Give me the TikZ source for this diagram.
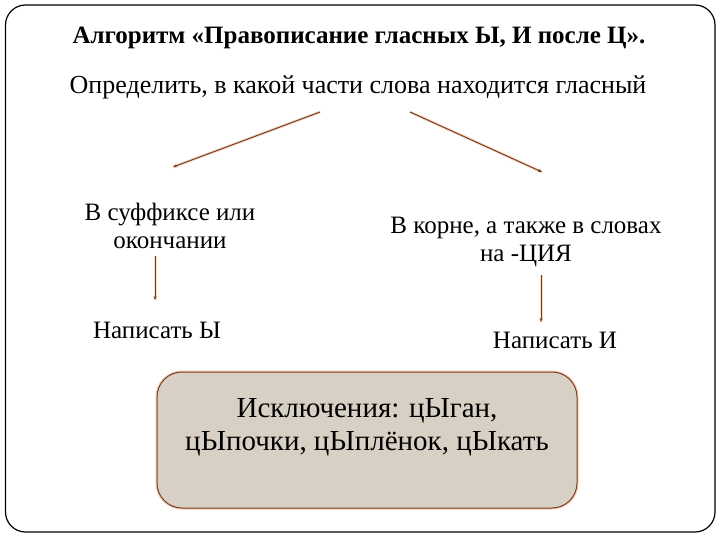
\documentclass[tikz,border=0pt]{standalone}
\usepackage{fontspec}
\setmainfont{Liberation Serif}
\usetikzlibrary{arrows.meta}
\definecolor{arrowbrown}{HTML}{7A3A20}
\definecolor{glow}{HTML}{F2C9A8}
\definecolor{boxfill}{HTML}{D8D0C4}
\definecolor{boxline}{HTML}{7B3F2A}
\tikzset{
  txt/.style={inner sep=0pt, align=center, font=\fontsize{25}{28}\selectfont},
  conn/.style={draw=arrowbrown, line width=1pt, -{Stealth[length=4pt,width=3pt]}},
  connglow/.style={draw=glow, line width=3pt, opacity=0.6},
}
\begin{document}
\begin{tikzpicture}[x=1pt,y=-1pt]
\useasboundingbox (0,0) rectangle (720,540);
\fill[white] (0,0) rectangle (720,540);
% outer frame
\draw[line width=1.2pt, rounded corners=20pt] (5.5,5) rectangle (715,532);
% title
\node[txt, font=\fontsize{25}{28}\bfseries\selectfont] (title) at (359,38) {Алгоритм «Правописание гласных Ы, И после Ц».};
\node[txt, font=\fontsize{26}{28}\selectfont] (det) at (358,87) {Определить, в какой части слова находится гласный};
% branch nodes
\node[txt] (suf) at (170,226) {В суффиксе или\\окончании};
\node[txt] (root) at (526,242) {В корне, а также в словах\\на -ЦИЯ};
\node[txt] (wy) at (157,330) {Написать Ы};
\node[txt] (wi) at (555,340) {Написать И};
% exceptions box
\draw[glow, line width=3pt, rounded corners=25pt] (157,372) rectangle (577,508);
\node[draw=boxline, fill=boxfill, line width=1pt, rounded corners=25pt,
      minimum width=420pt, minimum height=136pt, inner sep=0pt] (exbox) at (367,440) {};
\node[txt, font=\fontsize{29}{33}\selectfont] (ex) at (367,427) {Исключения: цЫган,\\цЫпочки, цЫплёнок, цЫкать};
% arrow anchors
\coordinate (a1s) at (320,112);
\coordinate (a1e) at (173,167);
\coordinate (a2s) at (410,112);
\coordinate (a2e) at (542,172);
\coordinate (a3s) at (155,256);
\coordinate (a3e) at (155,300);
\coordinate (a4s) at (541,275);
\coordinate (a4e) at (541,322);
\foreach \s/\e in {a1s/a1e,a2s/a2e,a3s/a3e,a4s/a4e}{
  \draw[connglow] (\s) -- (\e);
  \draw[conn] (\s) -- (\e);
}
\end{tikzpicture}
\end{document}
